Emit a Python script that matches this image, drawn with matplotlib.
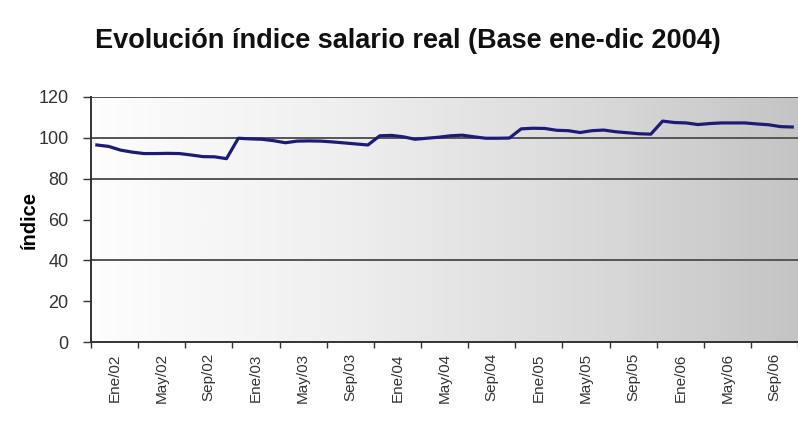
import numpy as np
import matplotlib.pyplot as plt

# indice salario real, mensual ene/2002 - dic/2006
valores_2002 = [96.5, 95.8, 94.0, 93.0, 92.3, 92.3, 92.4, 92.3, 91.6, 90.8, 90.7, 89.8]
valores_2003 = [99.8, 99.5, 99.3, 98.6, 97.6, 98.4, 98.5, 98.4, 98.0, 97.5, 97.0, 96.5]
valores_2004 = [101.0, 101.2, 100.5, 99.3, 99.8, 100.3, 101.0, 101.3, 100.5, 99.8, 99.8, 99.9]
valores_2005 = [104.4, 104.7, 104.6, 103.7, 103.5, 102.6, 103.5, 103.8, 103.0, 102.5, 102.0, 101.8]
valores_2006 = [108.2, 107.5, 107.3, 106.5, 107.0, 107.3, 107.3, 107.3, 106.8, 106.4, 105.5, 105.3]
valores = valores_2002 + valores_2003 + valores_2004 + valores_2005 + valores_2006

etiquetas = ['Ene/02', 'May/02', 'Sep/02', 'Ene/03', 'May/03', 'Sep/03',
             'Ene/04', 'May/04', 'Sep/04', 'Ene/05', 'May/05', 'Sep/05',
             'Ene/06', 'May/06', 'Sep/06']

plt.rcParams['font.family'] = ['Liberation Sans', 'DejaVu Sans']

fig = plt.figure(figsize=(7.98, 4.21), dpi=100)
ax = fig.add_axes([0.114, 0.1876, 0.8862, 0.582])

n = len(valores)
meses = np.arange(n)

# fondo degradado blanco -> gris
grad = np.linspace(0, 1, 256).reshape(1, -1)
ax.imshow(grad, cmap='Greys', vmin=-0.05, vmax=3.0, aspect='auto',
          extent=(-0.5, n - 0.5, 0, 120), zorder=0)

for g in [40, 80, 100, 120]:
    ax.axhline(g, color='#555555', lw=1.4, zorder=1)

ax.plot(meses, valores, color='#1c1c78', lw=2.3, zorder=3)

ax.set_xlim(-0.5, n - 0.5)
ax.set_ylim(0, 120)
ax.set_yticks(range(0, 121, 20))
ax.tick_params(axis='y', labelsize=13, labelcolor='#333333', length=6, width=1,
               color='#333333', pad=10)

ax.set_xticks(np.arange(-0.5, n, 4))
ax.set_xticklabels([])
ax.tick_params(axis='x', which='major', length=4, width=1, color='#333333')
ax.set_xticks(np.arange(1.5, n, 4), minor=True)
ax.set_xticklabels(etiquetas, minor=True, rotation=90, fontsize=11, color='#333333')
ax.tick_params(axis='x', which='minor', length=0, pad=8)

for s in ['top', 'right']:
    ax.spines[s].set_visible(False)
for s in ['left', 'bottom']:
    ax.spines[s].set_color('#333333')
    ax.spines[s].set_linewidth(1.4)

ax.set_ylabel('índice', fontsize=14.5, fontweight='bold', labelpad=0)
fig.text(0.511, 0.903, 'Evolución índice salario real (Base ene-dic 2004)',
         ha='center', va='center', fontsize=19.5, fontweight='bold', color='#111111')

fig.savefig('out.png', dpi=100)
